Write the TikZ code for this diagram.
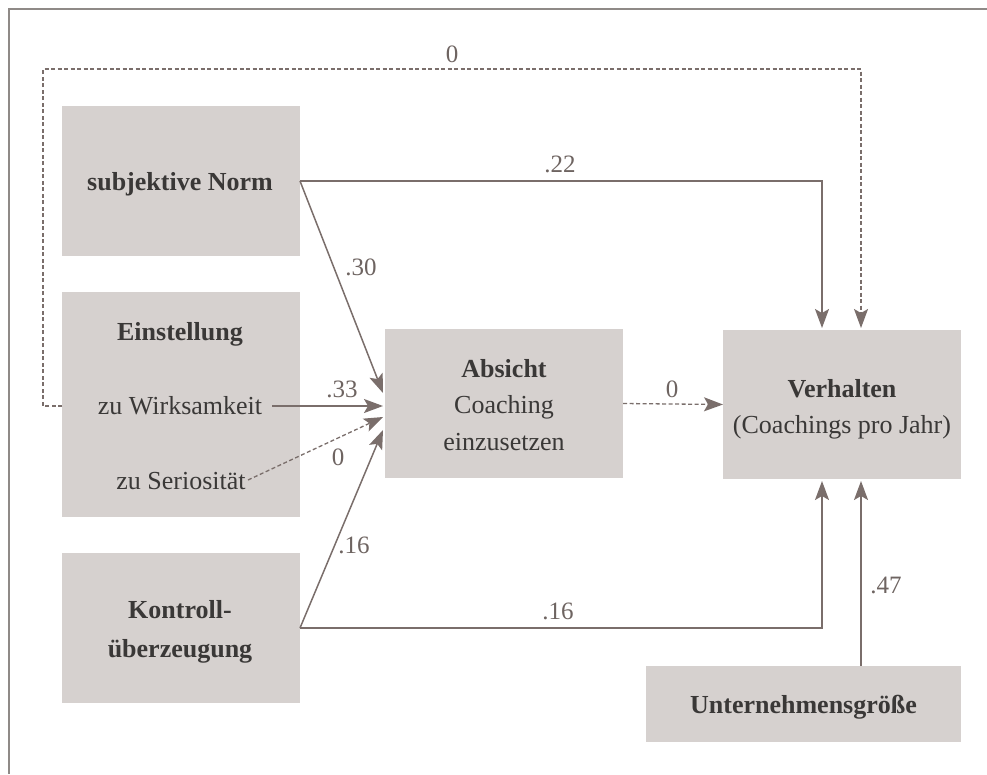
\documentclass[tikz,border=0pt]{standalone}
\usepackage{fontspec}
\setmainfont{Liberation Serif}
\usetikzlibrary{arrows.meta}
\definecolor{boxfill}{HTML}{D6D1CF}
\definecolor{linec}{HTML}{7A6E6B}
\definecolor{txtc}{HTML}{3A3837}
\definecolor{lblc}{HTML}{6E6461}
\definecolor{framec}{HTML}{8F8A87}
\begin{document}
\begin{tikzpicture}[x=1pt,y=-1pt,
  box/.style={fill=boxfill, draw=none, inner sep=0pt, outer sep=0pt, anchor=north west},
  txt/.style={anchor=base, inner sep=0pt, text=txtc, font=\fontsize{26}{36}\selectfont},
  txtb/.style={txt, font=\fontsize{26}{36}\selectfont\bfseries},
  lbl/.style={anchor=base, inner sep=0pt, text=lblc, font=\fontsize{25}{30}\selectfont},
  arr/.style={draw=linec, line width=1.5pt, -{Stealth[length=19pt,width=14pt,inset=4pt]}},
  darr/.style={arr, line width=1.3pt, dash pattern=on 4pt off 2.5pt}
]
\useasboundingbox (0,0) rectangle (987,774);
% frame
\draw[framec, line width=1.6pt] (987,9) -- (9,9) -- (9,774);

% boxes
\node[box, minimum width=238pt, minimum height=150pt] (norm) at (62,106) {};
\node[box, minimum width=238pt, minimum height=225pt] (einst) at (62,292) {};
\node[box, minimum width=238pt, minimum height=150pt] (kontr) at (62,553) {};
\node[box, minimum width=238pt, minimum height=149pt] (absicht) at (385,329) {};
\node[box, minimum width=238pt, minimum height=149pt] (verh) at (723,330) {};
\node[box, minimum width=315pt, minimum height=76pt] (unt) at (646,666) {};

% texts
\node[txtb] (tnorm) at (180,190) {subjektive Norm};
\node[txtb] (teinst) at (180,340) {Einstellung};
\node[txt] (wirk) at (180,414) {zu Wirksamkeit};
\node[txt] (serio) at (181,489) {zu Seriosität};
\node[txtb] (tk1) at (180,618) {Kontroll-};
\node[txtb] (tk2) at (180,657) {überzeugung};
\node[txtb] (ta1) at (504,377) {Absicht};
\node[txt] (ta2) at (504,413) {Coaching};
\node[txt] (ta3) at (504,450) {einzusetzen};
\node[txtb] (tv1) at (842,397) {Verhalten};
\node[txt] (tv2) at (842,433) {(Coachings pro Jahr)};
\node[txtb] (tu) at (803.5,713) {Unternehmensgröße};

% connector endpoints
\coordinate (wirkR) at (272,406);
\coordinate (serioR) at (248,480);
\coordinate (inN) at (383,393);
\coordinate (inW) at (383,406);
\coordinate (inS) at (383,417);
\coordinate (inK) at (383,430);
\coordinate (vTopA) at (822,328);
\coordinate (vTopB) at (861,328);
\coordinate (vBotA) at (822,481);
\coordinate (vBotB) at (861,481);
\coordinate (normR) at (300,181);
\coordinate (kontrR) at (300,628);
\coordinate (einstL) at (62,406);

% connectors
\draw[arr] (normR) -| (vTopA);
\draw[arr] (normR) -- (inN);
\draw[arr] (wirkR) -- (inW);
\draw[darr] (serioR) -- (inS);
\draw[arr] (kontrR) -- (inK);
\draw[arr] (kontrR) -| (vBotA);
\draw[arr] (unt.north -| vBotB) -- (vBotB);
\draw[darr] (absicht.east) -- (verh.west);
\draw[darr] (einstL) -- (43,406) -- (43,69) -| (vTopB);

% labels
\node[lbl] at (452,62) {0};
\node[lbl] at (560,172) {.22};
\node[lbl] at (361,275) {.30};
\node[lbl] at (342,397) {.33};
\node[lbl] at (338,465) {0};
\node[lbl] at (354,553) {.16};
\node[lbl] at (558,619) {.16};
\node[lbl] at (672,397) {0};
\node[lbl] at (886,593) {.47};
\end{tikzpicture}
\end{document}
